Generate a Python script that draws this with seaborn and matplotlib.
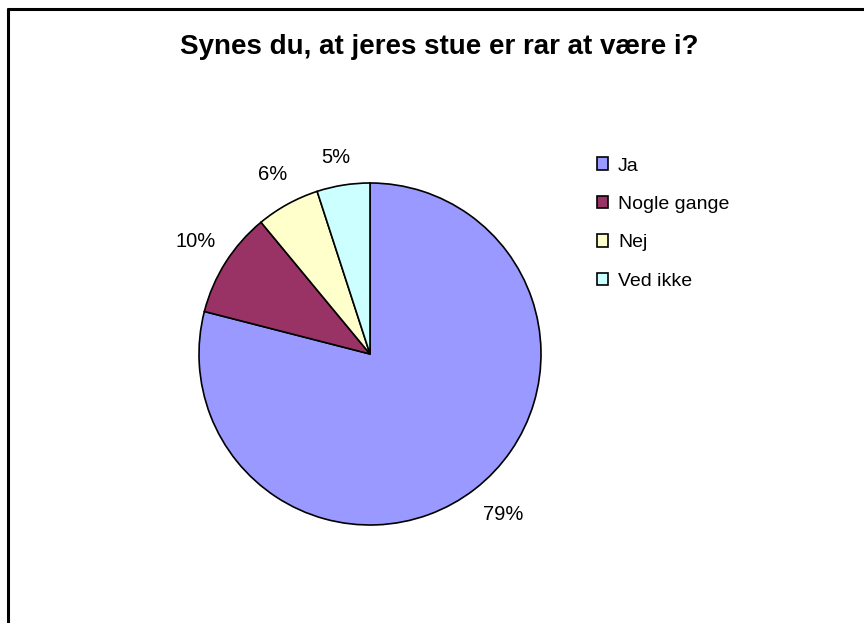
import matplotlib
matplotlib.use("Agg")
import matplotlib.pyplot as plt
import seaborn as sns
from matplotlib.lines import Line2D
from matplotlib.patches import Patch

# data
categories = ["Ja", "Nogle gange", "Nej", "Ved ikke"]
shares = [79, 10, 6, 5]
colors = ["#9999FF", "#993366", "#FFFFCC", "#CCFFFF"]
title = "Synes du, at jeres stue er rar at være i?"

sns.set_theme(style="white")
plt.rcParams["font.family"] = ["Liberation Sans", "DejaVu Sans"]
plt.rcParams["text.color"] = "black"

fig = plt.figure(figsize=(8.64, 6.23), dpi=100)
fig.patch.set_facecolor("white")

# pie area, square in pixels
ax = fig.add_axes([199 / 864, 98 / 623, 342 / 864, 342 / 623])
wedges, texts = ax.pie(
    shares,
    colors=colors,
    startangle=90,
    counterclock=False,
    radius=1,
    labels=[f"{v}%" for v in shares],
    labeldistance=1.2,
    wedgeprops=dict(edgecolor="black", linewidth=1.2),
    textprops=dict(fontsize=14.5, color="black"),
)
# nudge labels to where the spreadsheet put them
label_pos = [(0.78, -0.94), (-1.02, 0.66), (-0.57, 1.05), (-0.20, 1.15)]
for t, p in zip(texts, label_pos):
    t.set_position(p)
    t.set_ha("center")
    t.set_va("center")
ax.set_xlim(-1, 1)
ax.set_ylim(-1, 1)
ax.set_aspect("equal")
ax.axis("off")

fig.text(439 / 864, 1 - 47 / 623, title, ha="center", va="center",
         fontsize=20, fontweight="bold", color="black")

handles = [Patch(facecolor=c, edgecolor="black", linewidth=1.2) for c in colors]
fig.legend(handles, categories, loc="upper left",
           bbox_to_anchor=(579 / 864, 1 - 140 / 623),
           frameon=False, fontsize=14, handlelength=0.6, handleheight=0.6,
           handletextpad=0.5, labelspacing=1.1, labelcolor="black")

# chart frame: top and left edges only
fig.add_artist(Line2D([8 / 864, 1], [1 - 9 / 623, 1 - 9 / 623],
                      color="black", linewidth=2.2, transform=fig.transFigure))
fig.add_artist(Line2D([8 / 864, 8 / 864], [0, 1 - 9 / 623],
                      color="black", linewidth=2.2, transform=fig.transFigure))

fig.savefig("out.png", dpi=100, facecolor="white")
